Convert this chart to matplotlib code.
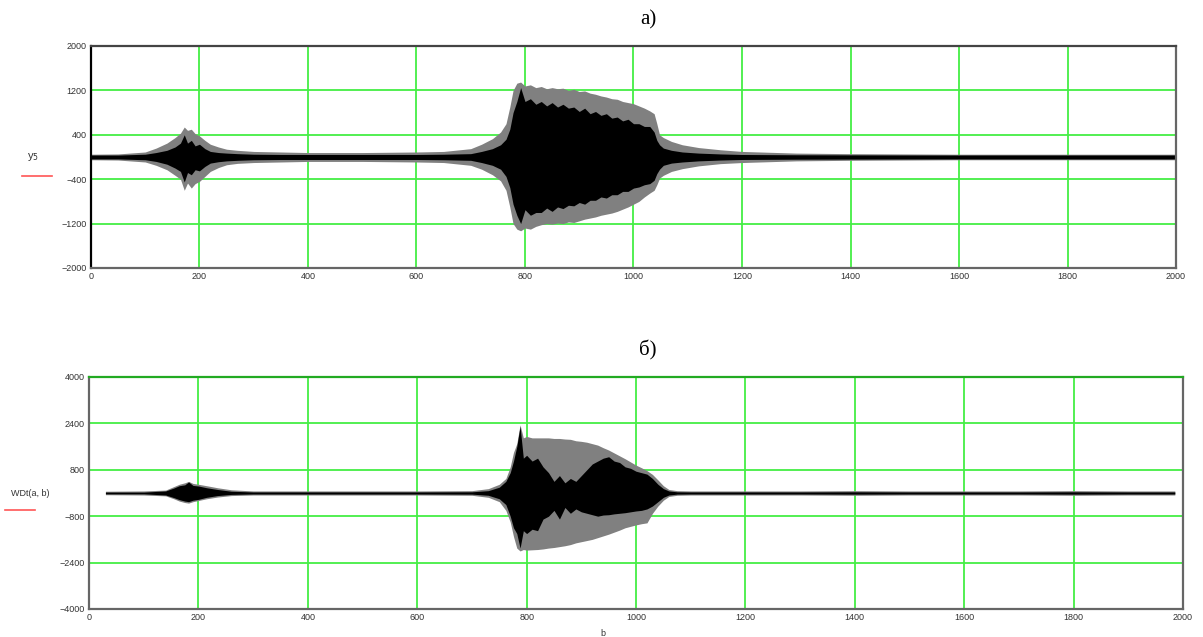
import matplotlib
matplotlib.use("Agg")
import matplotlib.pyplot as plt

# a) signal: sample points, outer (grey) and inner (black) envelopes
xa = [0, 50, 100, 120, 140, 155, 165, 172, 178, 185, 192, 200, 210, 220, 235, 250, 270, 300,
      350, 400, 500, 600, 650, 700, 720, 740, 755, 765, 772, 778, 785, 792, 800, 810, 820, 830,
      840, 850, 860, 870, 880, 890, 900, 910, 920, 930, 940, 950, 960, 970, 980, 990, 1000,
      1010, 1020, 1030, 1038, 1043, 1048, 1055, 1070, 1090, 1120, 1160, 1200, 1300, 1400,
      1500, 1600, 1700, 1800, 1900, 2000]
hi_a = [50, 55, 90, 160, 250, 350, 430, 540, 480, 500, 420, 380, 300, 230, 180, 140, 120, 100,
        90, 80, 80, 90, 100, 150, 230, 330, 450, 600, 900, 1200, 1330, 1350, 1280, 1300, 1250, 1270,
        1230, 1250, 1230, 1240, 1200, 1220, 1180, 1190, 1150, 1130, 1100, 1080, 1050, 1040, 1000, 980, 960,
        920, 880, 830, 780, 600, 400, 350, 280, 220, 170, 130, 100, 70, 60,
        55, 50, 50, 50, 50, 50]
lo_a = [-50, -55, -90, -150, -230, -330, -400, -600, -470, -560, -480, -440, -350, -260, -190, -140, -115, -100,
        -90, -80, -80, -90, -100, -150, -220, -320, -430, -600, -900, -1200, -1300, -1330, -1280, -1300, -1250, -1220,
        -1200, -1210, -1190, -1200, -1170, -1180, -1150, -1120, -1100, -1080, -1050, -1030, -1010, -980, -940, -900, -850,
        -800, -720, -650, -600, -500, -380, -330, -260, -210, -160, -120, -100, -70, -60,
        -55, -50, -50, -50, -50, -50]
core_hi_a = [35, 35, 50, 80, 120, 180, 250, 400, 250, 300, 200, 230, 150, 100, 80, 70, 60, 50,
             45, 45, 45, 45, 50, 60, 100, 150, 220, 320, 500, 800, 1000, 1250, 1000, 1050, 950, 1000,
             920, 980, 900, 950, 880, 900, 820, 880, 780, 820, 750, 780, 700, 720, 650, 680, 600,
             600, 550, 550, 450, 300, 220, 160, 120, 90, 70, 55, 45, 40, 38,
             36, 35, 35, 35, 35, 35]
core_lo_a = [-35, -35, -50, -80, -130, -200, -260, -450, -280, -320, -230, -250, -170, -110, -85, -70, -60, -50,
             -45, -45, -45, -45, -50, -60, -100, -150, -220, -350, -550, -850, -1050, -1200, -950, -1050, -1000, -1000,
             -920, -980, -900, -930, -870, -880, -820, -850, -780, -780, -720, -740, -680, -680, -620, -620, -560,
             -540, -500, -480, -420, -300, -220, -150, -110, -90, -70, -55, -45, -40, -38,
             -36, -35, -35, -35, -35, -35]

# б) wavelet coefficients WDt(a, b)
xb = [30, 100, 140, 155, 165, 175, 182, 190, 200, 215, 235, 260, 300, 400, 500, 600, 700, 730,
      750, 762, 770, 776, 782, 788, 794, 800, 810, 820, 830, 840, 850, 860, 870, 880, 890, 900,
      910, 920, 930, 940, 950, 960, 970, 980, 990, 1000, 1010, 1020, 1030, 1040, 1050, 1060,
      1075, 1100, 1200, 1300, 1400, 1500, 1600, 1700, 1800, 1900, 1985]
hi_b = [60, 70, 100, 220, 300, 350, 400, 330, 300, 250, 180, 110, 70, 70, 70, 70, 80, 150,
        300, 500, 900, 1400, 1700, 2350, 1900, 1950, 1900, 1900, 1900, 1900, 1880, 1880, 1860, 1850, 1800, 1780,
        1750, 1700, 1650, 1560, 1480, 1380, 1280, 1180, 1070, 960, 870, 770, 640, 450, 250, 120,
        80, 70, 70, 70, 80, 70, 70, 70, 80, 70, 70]
lo_b = [-60, -70, -100, -200, -280, -330, -350, -300, -260, -200, -140, -90, -70, -70, -70, -70, -80, -150,
        -300, -600, -1000, -1500, -1900, -2000, -1950, -1970, -1960, -1950, -1930, -1900, -1880, -1850, -1820, -1780, -1720, -1680,
        -1640, -1600, -1540, -1480, -1420, -1350, -1280, -1200, -1150, -1100, -1060, -1030, -700, -450, -250, -120,
        -80, -70, -70, -70, -80, -70, -70, -70, -80, -70, -70]
core_hi_b = [30, 30, 70, 170, 250, 280, 380, 260, 240, 180, 120, 60, 35, 35, 35, 35, 40, 80,
             200, 400, 700, 1100, 1600, 2300, 1200, 1300, 1100, 1200, 900, 700, 400, 600, 350, 500, 400, 600,
             800, 1000, 1100, 1200, 1250, 1100, 1050, 900, 850, 750, 700, 650, 500, 300, 150, 70,
             40, 35, 35, 35, 40, 35, 35, 35, 40, 35, 35]
core_lo_b = [-30, -30, -70, -160, -230, -280, -300, -250, -220, -150, -90, -50, -35, -35, -35, -35, -40, -80,
             -200, -400, -800, -1200, -1400, -1900, -1300, -1400, -1250, -1300, -900, -800, -600, -900, -500, -700, -550, -650,
             -700, -750, -800, -760, -750, -720, -700, -680, -650, -620, -600, -550, -450, -300, -150, -70,
             -40, -35, -35, -35, -40, -35, -35, -35, -40, -35, -35]

x_ticks = list(range(0, 2001, 200))
y_ticks_a = [-2000, -1200, -400, 400, 1200, 2000]
y_ticks_b = [-4000, -2400, -800, 800, 2400, 4000]

GREEN = "#44ee44"
GREY = "#808080"
tick_font = dict(family="Liberation Sans", size=6.5, color="#333333")


def style_axes(ax, yticks, ylim):
    ax.set_xlim(0, 2000)
    ax.set_ylim(*ylim)
    ax.set_xticks(x_ticks)
    ax.set_yticks(yticks)
    ax.set_xticklabels([str(t) for t in x_ticks], fontdict=tick_font)
    ax.set_yticklabels([str(t).replace("-", "\u2212") for t in yticks], fontdict=tick_font)
    ax.tick_params(length=0, pad=3)
    ax.grid(True, color=GREEN, lw=1.3)
    ax.set_axisbelow(True)
    for s in ax.spines.values():
        s.set_color("#666666")
        s.set_linewidth(1.6)


fig = plt.figure(figsize=(12.03, 6.37), dpi=100)

ax1 = fig.add_axes([0.0756, 0.5793, 0.902, 0.3485])
style_axes(ax1, y_ticks_a, (-2000, 2000))
ax1.spines["left"].set_color("black")
ax1.spines["top"].set_color("#444444")
ax1.fill_between(xa, lo_a, hi_a, color=GREY, lw=0)
ax1.fill_between(xa, core_lo_a, core_hi_a, color="black", lw=0)

ax2 = fig.add_axes([0.074, 0.044, 0.9094, 0.3642])
style_axes(ax2, y_ticks_b, (-4000, 4000))
ax2.spines["top"].set_color("#22aa22")
ax2.fill_between(xb, lo_b, hi_b, color=GREY, lw=0)
ax2.fill_between(xb, core_lo_b, core_hi_b, color="black", lw=0)

# titles and Mathcad-style axis labels
fig.text(648 / 1203, 1 - 20 / 637, "a)", family="Liberation Serif", size=15, ha="center", va="center")
fig.text(648 / 1203, 1 - 350 / 637, "б)", family="Liberation Serif", size=15, ha="center", va="center")

fig.text(33 / 1203, 1 - 157 / 637, "y$_5$", family="Liberation Sans", size=8, ha="center", va="center",
         color="#333333")
fig.add_artist(plt.Line2D([22 / 1203, 52 / 1203], [1 - 176 / 637] * 2, color="#ff5555", lw=1.2))
fig.text(30 / 1203, 1 - 493 / 637, "WDt(a, b)", family="Liberation Sans", size=6.5, ha="center", va="center",
         color="#333333")
fig.add_artist(plt.Line2D([5 / 1203, 35 / 1203], [1 - 510 / 637] * 2, color="#ff5555", lw=1.2))
fig.text(603 / 1203, 1 - 633 / 637, "b", family="Liberation Sans", size=6.5, ha="center", va="center",
         color="#333333")

fig.savefig("out.png", dpi=100, facecolor="white")
